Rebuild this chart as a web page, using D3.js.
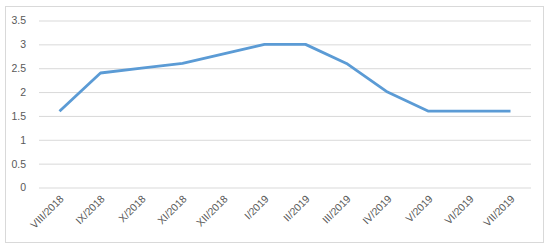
<!DOCTYPE html>
<html>
<head>
<meta charset="utf-8">
<script src="https://cdn.jsdelivr.net/npm/d3@7"></script>
<style>
	body { margin: 0; background: #fff; }
	svg { display: block; font-family: "Liberation Sans", Arial, sans-serif; }
	.axis text { fill: #595959; font-size: 10.5px; }
	.grid line { stroke: #d9d9d9; stroke-width: 1; }
</style>
</head>
<body>
<svg id="chart" width="550" height="248"></svg>
<script>
var months = ["VIII/2018", "IX/2018", "X/2018", "XI/2018", "XII/2018", "I/2019", "II/2019", "III/2019", "IV/2019", "V/2019", "VI/2019", "VII/2019"];
var values = [1.6, 2.4, 2.5, 2.6, 2.8, 3.0, 3.0, 2.6, 2.0, 1.6, 1.6, 1.6];
var yTicks = [0, 0.5, 1, 1.5, 2, 2.5, 3, 3.5];

var chart = d3.select("#chart");
// outer chart border like the spreadsheet frame
chart.append("rect").attr("x", 5.5).attr("y", 6.5).attr("width", 538).attr("height", 236)
	.attr("fill", "#fff").attr("stroke", "#d9d9d9");

// plot area edges ("top" is taken by window.top, so prefix them)
var plotLeft = 39, plotRight = 531, plotTop = 20.5, plotBottom = 187.5;
var y = d3.scaleLinear().domain([0, 3.5]).range([plotBottom, plotTop]);
var x = d3.scaleBand().domain(months).range([plotLeft, plotRight]);

// gridlines go under the line
var grid = chart.append("g").attr("class", "grid")
	.attr("transform", "translate(" + plotLeft + ",0)")
	.call(d3.axisLeft(y).tickValues(yTicks).tickSize(plotLeft - plotRight).tickFormat(""));
grid.select(".domain").remove();

var yaxis = chart.append("g").attr("class", "axis")
	.attr("transform", "translate(" + (plotLeft - 10) + ",0)")
	.call(d3.axisLeft(y).tickValues(yTicks).tickSize(0).tickFormat(d3.format("")));
yaxis.select(".domain").remove();

var xaxis = chart.append("g").attr("class", "axis")
	.attr("transform", "translate(0," + plotBottom + ")")
	.call(d3.axisBottom(x).tickSize(0));
xaxis.select(".domain").remove();
xaxis.selectAll("text")
	.attr("text-anchor", "end")
	.attr("dy", 0).attr("y", 0)
	.attr("transform", "translate(5,12) rotate(-45)");

var line = d3.line()
	.x(function(d, i) { return x(months[i]) + x.bandwidth() / 2; })
	.y(function(d) { return y(d); });
chart.append("path").datum(values)
	.attr("d", line)
	.attr("fill", "none")
	.attr("stroke", "#5b9bd5")
	.attr("stroke-width", 2.8)
	.attr("stroke-linejoin", "round");
</script>
</body>
</html>
